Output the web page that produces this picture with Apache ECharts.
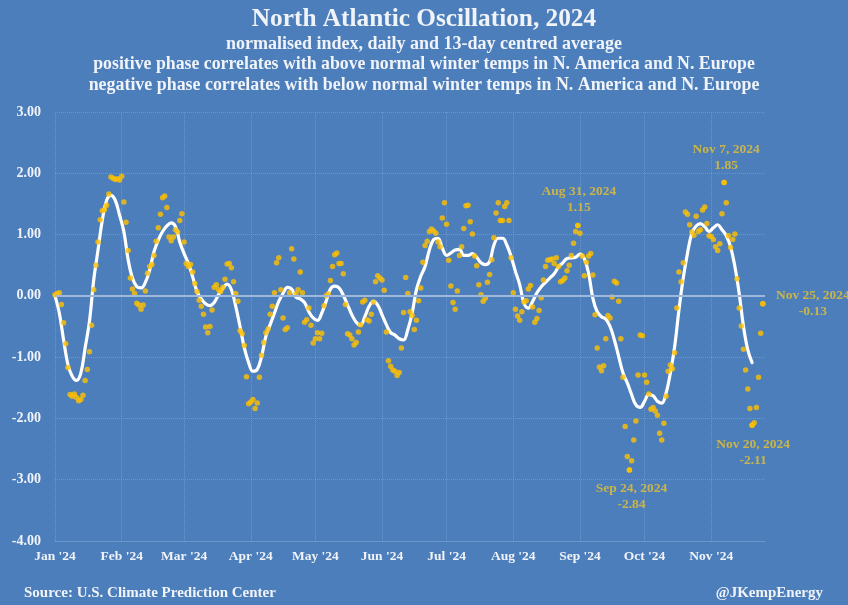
<!DOCTYPE html>
<html>
<head>
<meta charset="utf-8">
<title>North Atlantic Oscillation, 2024</title>
<script src="https://cdn.jsdelivr.net/npm/echarts@6/dist/echarts.min.js"></script>
<style>
html,body{margin:0;padding:0;background:#4c7ebb;overflow:hidden;}
#main{width:848px;height:605px;filter:blur(0.4px);}
</style>
</head>
<body>
<div id="main"></div>
<script>
/*月份*/
var monthNames = ['Jan', 'Feb', 'Mar', 'Apr', 'May', 'Jun', 'Jul', 'Aug', 'Sep', 'Oct', 'Nov'];
var monthLengths = [31, 29, 31, 30, 31, 30, 31, 31, 30, 31, 25];
var yTicks = [-4, -3, -2, -1, 0, 1, 2, 3];

/*daily index, Jan 1 to Nov 25*/
var dailyValues = [
  0.02, 0.04, 0.05, -0.14, -0.44, -0.78, -1.17, -1.61, -1.64, -1.60, -1.66, -1.71, -1.69, -1.62, -1.38, -1.20,
  -0.91, -0.48, 0.10, 0.50, 0.88, 1.24, 1.39, 1.41, 1.48, 1.66, 1.94, 1.92, 1.90, 1.91, 1.89, 1.95, 1.53, 1.20,
  0.74, 0.29, 0.11, 0.04, -0.12, -0.15, -0.22, -0.15, 0.08, 0.37, 0.48, 0.51, 0.66, 0.89, 1.11, 1.33, 1.60, 1.63,
  1.44, 0.96, 0.90, 0.96, 1.08, 1.04, 1.23, 1.34, 0.88, 0.53, 0.48, 0.51, 0.39, 0.20, 0.07, -0.07, -0.17, -0.30,
  -0.51, -0.60, -0.50, -0.23, 0.14, 0.18, 0.10, 0.07, 0.14, 0.27, 0.52, 0.53, 0.46, 0.23, 0.04, -0.09, -0.57, -0.62,
  -0.81, -1.32, -1.76, -1.73, -1.69, -1.84, -1.75, -1.33, -0.97, -0.76, -0.60, -0.54, -0.30, -0.17, 0.05, 0.54, 0.62,
  0.10, -0.36, -0.55, -0.52, 0.05, 0.77, 0.60, 0.03, 0.10, 0.39, 0.05, -0.43, -0.39, -0.20, -0.48, -0.77, -0.70,
  -0.60, -0.70, -0.61, -0.16, 0, 0.03, 0.25, 0.48, 0.67, 0.70, 0.53, 0.53, 0.36, -0.14, -0.62, -0.64, -0.70, -0.80,
  -0.76, -0.59, -0.47, -0.10, -0.07, -0.39, -0.41, -0.30, -0.10, 0.23, 0.33, 0.29, 0.26, 0.09, -0.59, -1.06, -1.15,
  -1.21, -1.23, -1.30, -1.25, -0.85, -0.27, 0.30, 0.04, -0.26, -0.32, -0.55, -0.40, -0.08, 0.13, 0.55, 0.82, 0.89,
  1.05, 1.09, 1.06, 1.02, 0.88, 0.80, 1.27, 1.52, 1.17, 0.58, 0.16, -0.11, -0.22, 0.08, 0.66, 0.80, 1.10, 1.47, 1.48,
  1.21, 1.01, 0.65, 0.49, 0.18, 0.02, -0.09, -0.04, 0.22, 0.35, 0.59, 0.95, 1.35, 1.52, 1.23, 1.23, 1.46, 1.52, 1.23,
  0.62, 0.05, -0.22, -0.33, -0.40, -0.26, -0.10, -0.08, 0.11, 0.17, -0.18, -0.43, -0.37, -0.24, -0.03, 0.26, 0.48,
  0.58, 0.59, 0.60, 0.53, 0.62, 0.48, 0.23, 0.25, 0.29, 0.41, 0.50, 0.66, 0.86, 1.05, 1.15, 1.02, 0.65, 0.33, 0.55,
  0.65, 0.69, 0.34, -0.31, -0.85, -1.16, -1.22, -1.14, -0.70, -0.32, -0.36, -0.02, 0.24, 0.21, -0.09, -0.70, -1.33,
  -2.13, -2.62, -2.84, -2.69, -2.35, -2.04, -1.29, -0.64, -0.65, -1.29, -1.41, -1.60, -1.85, -1.82, -1.88, -1.95,
  -2.24, -2.35, -2.08, -1.64, -1.23, -1.13, -1.19, -0.93, -0.20, 0.39, 0.23, 0.54, 1.37, 1.33, 1.16, 1.04, 0.99, 1.30,
  1.05, 1.08, 1.40, 1.45, 1.18, 0.98, 0.97, 0.92, 0.80, 0.74, 0.85, 1.34, 1.85, 1.52, 0.98, 0.79, 0.92, 1.01, 0.28,
  -0.20, -0.49, -0.87, -1.21, -1.52, -1.84, -2.11, -2.07, -1.82, -1.33, -0.61, -0.13
];

/*13-day centred average, read every second day*/
var avgValues = [
  0, -0.28, -0.72, -1.12, -1.31, -1.38, -1.26, -0.85, -0.42, 0.26, 0.75, 1.24, 1.56, 1.64, 1.56, 1.32, 1.05, 0.59,
  0.29, 0.15, 0.13, 0.22, 0.42, 0.72, 0.91, 1.05, 1.14, 1.19, 1.13, 0.88, 0.69, 0.53, 0.31, 0.07, -0.05, -0.13, -0.16,
  -0.11, 0.02, 0.12, 0.19, 0.10, -0.17, -0.50, -0.85, -1.09, -1.23, -1.20, -0.99, -0.66, -0.47, -0.28, -0.09, 0.04,
  0.14, 0.11, -0.02, -0.05, -0.11, -0.26, -0.36, -0.40, -0.28, -0.09, 0.11, 0.16, 0.13, 0.01, -0.15, -0.31, -0.43,
  -0.48, -0.34, -0.17, -0.09, -0.15, -0.31, -0.47, -0.60, -0.64, -0.70, -0.72, -0.55, -0.28, 0.10, 0.32, 0.48, 0.75,
  0.92, 0.94, 0.78, 0.66, 0.70, 0.75, 0.76, 0.66, 0.66, 0.69, 0.63, 0.54, 0.51, 0.56, 0.83, 0.94, 0.94, 0.83, 0.64,
  0.40, 0.18, -0.12, -0.20, -0.09, 0.05, 0.15, 0.22, 0.29, 0.36, 0.47, 0.54, 0.61, 0.62, 0.63, 0.68, 0.61, 0.37, -0.04,
  -0.26, -0.34, -0.38, -0.50, -0.72, -0.99, -1.26, -1.42, -1.61, -1.78, -1.82, -1.72, -1.61, -1.63, -1.72, -1.75,
  -1.59, -1.26, -0.83, -0.23, 0.29, 0.70, 1.02, 1.14, 1.18, 1.13, 1.05, 1.11, 1.16, 1.08, 0.98, 0.80, 0.48, 0.04,
  -0.50, -0.88, -1.09
];

/*标注*/
var noteDays = [243, 267, 311, 324, 329];
var noteTexts = ['Aug 31, 2024\n1.15', 'Sep 24, 2024\n-2.84', 'Nov 7, 2024\n1.85', 'Nov 20, 2024\n-2.11', 'Nov 25, 2024\n-0.13'];
var noteOffsets = [[1, -26], [2, 27], [2, -25], [1, 27], [50, 0]];

var SERIF = '"Liberation Serif", serif';
var GOLD = '#e8c22e';
var DOT = '#ffc000';
var PALE = '#f0f3f8';
var GRID = '#6d97ca';

var days = [];
var monthStart = {};
for (var m = 0; m < monthNames.length; m++) {
    monthStart[days.length] = monthNames[m] + " '24";
    for (var d = 1; d <= monthLengths[m]; d++) {
        days.push(monthNames[m] + ' ' + d);
    }
}
function isMonthStart(i) {
    return monthStart[i] !== undefined;
}

var avgData = [];
for (var i = 0; i < avgValues.length; i++) {
    avgData.push([i * 2, avgValues[i]]);
}
var dotData = [];
for (var j = 0; j < dailyValues.length; j++) {
    dotData.push([j, dailyValues[j]]);
}
var noteData = [];
for (var k = 0; k < noteDays.length; k++) {
    noteData.push({
        value: [noteDays[k], dailyValues[noteDays[k]]],
        label: {show: true, formatter: noteTexts[k], offset: noteOffsets[k]}
    });
}

function titleLine(text, top, size) {
    return {
        text: text, left: 'center', top: top, padding: 0,
        textStyle: {color: PALE, fontFamily: SERIF, fontWeight: 'bold', fontSize: size}
    };
}

var chart = echarts.init(document.getElementById('main'));
chart.setOption({
    animation: false,
    backgroundColor: '#4c7ebb',
    title: [
        titleLine('North Atlantic Oscillation, 2024', 7, 25.3),
        titleLine('normalised index, daily and 13-day centred average', 35, 18),
        titleLine('positive phase correlates with above normal winter temps in N. America and N. Europe', 55, 17.8),
        titleLine('negative phase correlates with below normal winter temps in N. America and N. Europe', 76, 17.9),
        {
            text: 'Source: U.S. Climate Prediction Center', left: 24, top: 586, padding: 0,
            textStyle: {color: PALE, fontFamily: SERIF, fontWeight: 'bold', fontSize: 15}
        },
        {
            text: '@JKempEnergy', right: 25, top: 586, padding: 0,
            textStyle: {color: PALE, fontFamily: SERIF, fontWeight: 'bold', fontSize: 15}
        }
    ],
    grid: {left: 55, right: 83, top: 112, bottom: 64},
    xAxis: {
        type: 'category',
        data: days.concat(['Nov 26']),
        boundaryGap: false,
        axisLine: {onZero: false, lineStyle: {color: GRID, width: 1}},
        axisTick: {show: false},
        axisLabel: {
            interval: function (i) { return isMonthStart(i); },
            formatter: function (v, i) { return monthStart[i]; },
            color: PALE, fontFamily: SERIF, fontWeight: 'bold', fontSize: 13.5, margin: 9
        },
        splitLine: {
            show: true,
            interval: function (i) { return isMonthStart(i); },
            lineStyle: {color: GRID, width: 1, type: 'dotted'}
        }
    },
    yAxis: {
        type: 'value',
        min: yTicks[0],
        max: yTicks[yTicks.length - 1],
        interval: 1,
        axisLine: {show: false},
        axisTick: {show: false},
        axisLabel: {
            formatter: function (v) { return v.toFixed(2); },
            color: PALE, fontFamily: SERIF, fontWeight: 'bold', fontSize: 14, margin: 14
        },
        splitLine: {lineStyle: {color: GRID, width: 1, type: 'dotted'}}
    },
    series: [
        {
            type: 'line',
            data: [],
            z: 1,
            markLine: {
                silent: true, symbol: 'none', label: {show: false},
                lineStyle: {color: '#9db8da', width: 2, type: 'solid'},
                data: [{yAxis: 0}]
            }
        },
        {
            type: 'line',
            data: avgData,
            z: 2,
            smooth: 0.4,
            showSymbol: false,
            lineStyle: {color: '#ffffff', width: 3.2, cap: 'round'}
        },
        {
            type: 'scatter',
            data: dotData,
            z: 3,
            symbolSize: 5.5,
            itemStyle: {color: DOT}
        },
        {
            type: 'scatter',
            data: noteData,
            z: 4,
            symbolSize: 5.5,
            clip: false,
            itemStyle: {color: DOT},
            label: {
                position: 'inside',
                color: GOLD,
                fontFamily: SERIF,
                fontWeight: 'bold',
                fontSize: 13.5,
                lineHeight: 16,
                align: 'center'
            }
        }
    ]
});
</script>
</body>
</html>
